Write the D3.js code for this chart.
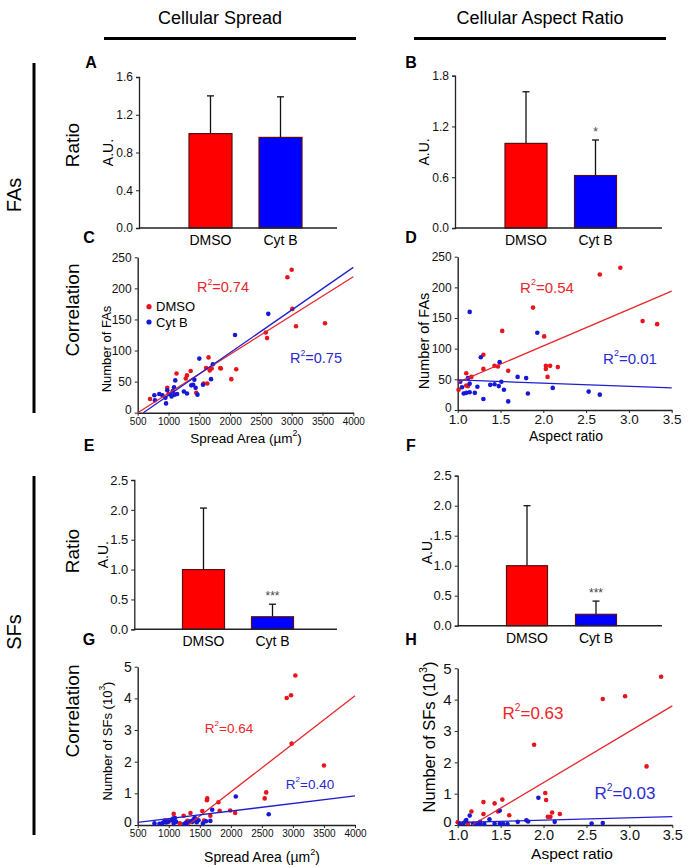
<!DOCTYPE html>
<html><head><meta charset="utf-8">
<script src="https://cdn.jsdelivr.net/npm/d3@7/dist/d3.min.js"></script>
<style>
body{margin:0;background:#fff;}
svg{display:block;font-family:"Liberation Sans",Arial,sans-serif;}
</style></head>
<body>
<svg id="fig" width="690" height="867"></svg>
<script>
// ---------------- DATA ----------------
const groups = ["DMSO", "Cyt B"];

// Bar panels (mean, error top)
const faSpreadMean = [1.0, 0.96];
const faSpreadErr  = [1.40, 1.39];
const faAspectMean = [1.0, 0.62];
const faAspectErr  = [1.61, 1.04];
const sfSpreadMean = [1.0, 0.21];
const sfSpreadErr  = [2.03, 0.42];
const sfAspectMean = [1.0, 0.19];
const sfAspectErr  = [2.0, 0.41];

const ticksA = [0, 0.4, 0.8, 1.2, 1.6];
const ticksB = [0, 0.6, 1.2, 1.8];
const ticksEF = [0, 0.5, 1.0, 1.5, 2.0, 2.5];
const sigB = ["", "*"];
const sigEF = ["", "***"];

// C: spread area vs number of FAs
const cDMSO = [[700,22],[980,40],[1000,30],[1130,63],[1280,55],[1300,60],[1360,67],[1450,32],[1570,47],[1610,72],[1630,47],[1650,89],[1670,68],[1700,71],[1840,72],[1850,71],[2020,54],[2100,70],[2580,129],[2600,120],[2930,218],[3000,230],[3010,167],[3070,139],[3540,144]];
const cCytB = [[770,28],[780,20],[850,30],[900,28],[960,15],[980,36],[1030,30],[1070,35],[1090,41],[1110,52],[1140,30],[1250,34],[1300,31],[1370,44],[1400,45],[1420,53],[1440,40],[1470,29],[1500,87],[1560,45],[1690,54],[1720,78],[2080,125],[2620,159],[1050,26],[1100,29],[950,24]];
// D: aspect ratio vs number of FAs
const dDMSO = [[2.90,232],[2.66,221],[1.88,167],[1.52,129],[2.01,120],[3.16,145],[3.33,140],[1.30,90],[1.30,67],[1.43,72],[1.47,71],[1.59,64],[2.03,72],[2.03,67],[2.08,72],[2.17,70],[2.05,54],[1.10,60],[1.16,54],[1.10,40],[1.12,39],[1.01,33]];
const dCytB = [[1.14,160],[1.93,126],[1.27,86],[1.49,78],[1.70,54],[1.80,52],[1.12,52],[1.03,46],[1.14,43],[1.51,46],[1.38,41],[1.43,42],[1.48,39],[1.23,38],[1.54,33],[2.11,36],[1.05,37],[1.07,27],[1.10,28],[1.14,29],[1.20,28],[1.30,18],[1.59,14],[1.82,27],[2.53,30],[2.66,25]];
// G: spread area vs number of SFs (10^3)
const gDMSO = [[3040,4.72],[2970,4.10],[2900,4.01],[2980,2.57],[3500,1.88],[2570,1.03],[2545,0.84],[1620,0.84],[1615,0.78],[1800,0.72],[1820,0.45],[1990,0.46],[2070,0.38],[1670,0.29],[1540,0.44],[1570,0.14],[1350,0.38],[1080,0.35],[1240,0.29],[1300,0.13],[940,0.14],[1000,0.10],[1180,0.05],[1400,0.15],[1450,0.10]];
const gCytB = [[2080,0.90],[2610,0.34],[1700,0.48],[1670,0.13],[770,0.05],[850,0.04],[900,0.06],[930,0.10],[960,0.08],[990,0.12],[1050,0.15],[1070,0.20],[1080,0.05],[1100,0.22],[1120,0.10],[1250,0.04],[1280,0.08],[1300,0.05],[1350,0.12],[1380,0.10],[1400,0.18],[1420,0.22],[1450,0.09],[1480,0.15],[1550,0.05],[1600,0.12]];
// H: aspect ratio vs number of SFs (10^3)
const hDMSO = [[3.37,4.73],[2.95,4.11],[2.69,4.02],[1.89,2.56],[3.20,1.87],[2.02,1.02],[2.03,0.80],[1.52,0.81],[1.30,0.73],[1.43,0.69],[1.16,0.43],[1.30,0.35],[1.47,0.43],[1.60,0.31],[2.10,0.40],[2.19,0.35],[2.05,0.26],[2.08,0.26],[1.00,0.09],[1.09,0.13],[1.12,0.05]];
const hCytB = [[1.94,0.87],[1.49,0.46],[1.14,0.30],[1.37,0.18],[1.10,0.16],[1.80,0.15],[1.82,0.11],[1.70,0.10],[2.13,0.10],[1.26,0.10],[2.56,0.05],[2.69,0.06],[1.03,0.05],[1.07,0.06],[1.18,0.04],[1.22,0.04],[1.43,0.04],[1.49,0.04],[1.53,0.03],[1.58,0.03],[1.26,0.03],[1.31,0.03]];

// Linear fits [slope, intercept]
const fitC = {dmso:[0.0625,-31.25], cytb:[0.0686,-40.6]};
const fitD = {dmso:[59.5,-14.5], cytb:[-5.2,54.2]};
const fitG = {dmso:[0.00152,-1.996], cytb:[0.00024,-0.04]};
const fitH = {dmso:[1.631,-1.908], cytb:[0.076,0.004]};
const r2C = ["R\u00b2=0.74","R\u00b2=0.75"];
const r2D = ["R\u00b2=0.54","R\u00b2=0.01"];
const r2G = ["R\u00b2=0.64","R\u00b2=0.40"];
const r2H = ["R\u00b2=0.63","R\u00b2=0.03"];

const spreadTicks = [500,1000,1500,2000,2500,3000,3500,4000];
const aspectTicks = [1.0,1.5,2.0,2.5,3.0,3.5];
const faTicks = [0,50,100,150,200,250];
const sfTicks = [0,1,2,3,4,5];

// ---------------- STYLE ----------------
const RED = "#ff0000", BLUE = "#0000ff";
const DOT_RED = "#e8141c", DOT_BLUE = "#1717d6";
const TXT_RED = "#e8262b", TXT_BLUE = "#2a2ad0";
const AX = "#222";

const svg = d3.select("#fig");

function txt(x, y, s, size, opts = {}) {
  const t = svg.append("text").attr("x", x).attr("y", y)
    .attr("font-size", size).attr("fill", opts.fill || "#000")
    .attr("text-anchor", opts.anchor || "middle")
    .attr("dominant-baseline", opts.baseline || "central");
  if (opts.weight) t.attr("font-weight", opts.weight);
  if (opts.rotate) t.attr("transform", `rotate(-90,${x},${y})`);
  t.text(s);
  return t;
}

// headers
txt(220, 18, "Cellular Spread", 18);
txt(540, 18, "Cellular Aspect Ratio", 18);
svg.append("line").attr("x1",104).attr("x2",356).attr("y1",38.5).attr("y2",38.5).attr("stroke","#000").attr("stroke-width",3);
svg.append("line").attr("x1",414).attr("x2",666).attr("y1",38.5).attr("y2",38.5).attr("stroke","#000").attr("stroke-width",3);
// left
svg.append("line").attr("x1",34).attr("x2",34).attr("y1",63).attr("y2",413).attr("stroke","#000").attr("stroke-width",3);
svg.append("line").attr("x1",34).attr("x2",34).attr("y1",476).attr("y2",835).attr("stroke","#000").attr("stroke-width",3);
txt(14, 195, "FAs", 20, {rotate:true});
txt(14, 632, "SFs", 20, {rotate:true});
txt(72, 145, "Ratio", 19, {rotate:true});
txt(72, 310, "Correlation", 19, {rotate:true});
txt(72, 551, "Ratio", 19, {rotate:true});
txt(72, 711, "Correlation", 19, {rotate:true});
// letters
[["A",91,62],["B",411,62],["C",89,237],["D",411,237],["E",89,445],["F",411,445],["G",89,639],["H",411,639]]
  .forEach(([l,x,y]) => txt(x, y, l, 16, {weight:"bold"}));

// ---------------- BAR PANELS ----------------
function barPanel(cfg) {
  const y = d3.scaleLinear().domain([0, cfg.max]).range([cfg.y0, cfg.y1]);
  const x = d3.scalePoint().domain(groups).range(cfg.centers);
  const g = svg.append("g");
  const yAxis = d3.axisLeft(y).tickValues(cfg.ticks).tickSize(3).tickFormat(d3.format(".1f"));
  const ga = g.append("g").attr("transform", `translate(${cfg.ax},0)`).call(yAxis);
  ga.select(".domain").attr("stroke", AX).attr("stroke-width", 1.3);
  ga.selectAll(".tick line").attr("stroke", AX);
  ga.selectAll(".tick text").attr("font-size", cfg.tickSize).attr("fill", "#111")
    .attr("font-family", '"Liberation Sans",Arial,sans-serif');
  // error bars
  groups.forEach((k, i) => {
    const cx = x(k);
    g.append("line").attr("x1", cx).attr("x2", cx).attr("y1", y(cfg.mean[i])).attr("y2", y(cfg.err[i]))
      .attr("stroke", "#111").attr("stroke-width", 1.3);
    g.append("line").attr("x1", cx - 3.5).attr("x2", cx + 3.5).attr("y1", y(cfg.err[i])).attr("y2", y(cfg.err[i]))
      .attr("stroke", "#111").attr("stroke-width", 1.3);
  });
  g.selectAll("rect.bar").data(groups).enter().append("rect")
    .attr("x", d => x(d) - cfg.bw / 2).attr("width", cfg.bw)
    .attr("y", (d, i) => y(cfg.mean[i])).attr("height", (d, i) => cfg.y0 - y(cfg.mean[i]))
    .attr("fill", (d, i) => i === 0 ? RED : BLUE).attr("stroke", "#5a1010").attr("stroke-width", 1.2);
  // baseline
  g.append("line").attr("x1", cfg.ax).attr("x2", cfg.right).attr("y1", cfg.y0).attr("y2", cfg.y0)
    .attr("stroke", AX).attr("stroke-width", 1.5);
  // category labels
  groups.forEach((k) => txt(x(k), cfg.y0 + 12, k, 14));
  // significance
  if (cfg.sig) groups.forEach((k, i) => {
    if (cfg.sig[i]) txt(x(k), y(cfg.err[i]) - 8, cfg.sig[i], 12, {fill:"#444"});
  });
  txt(cfg.ax - 31, (cfg.y0 + cfg.y1) / 2, "A.U.", 14, {rotate:true});
}

barPanel({ax:139, right:337, y0:228, y1:77, max:1.6, ticks:ticksA, centers:[210.5,280.5], bw:43, mean:faSpreadMean, err:faSpreadErr, tickSize:12});
barPanel({ax:455, right:662, y0:228, y1:75.7, max:1.8, ticks:ticksB, centers:[526,595.5], bw:42, mean:faAspectMean, err:faAspectErr, tickSize:12, sig:sigB});
barPanel({ax:134.3, right:337, y0:629.3, y1:480, max:2.5, ticks:ticksEF, centers:[203.5,272.5], bw:42, mean:sfSpreadMean, err:sfSpreadErr, tickSize:13, sig:sigEF});
barPanel({ax:457.7, right:662, y0:625.7, y1:475.7, max:2.5, ticks:ticksEF, centers:[527,596], bw:41, mean:sfAspectMean, err:sfAspectErr, tickSize:13, sig:sigEF});

// ---------------- SCATTER PANELS ----------------
function scatterPanel(cfg) {
  const x = d3.scaleLinear().domain(cfg.xd).range([cfg.x0, cfg.x1]);
  const y = d3.scaleLinear().domain(cfg.yd).range([cfg.y0, cfg.y1]);
  const g = svg.append("g");
  const xa = g.append("g").attr("transform", `translate(0,${cfg.y0})`)
    .call(d3.axisBottom(x).tickValues(cfg.xt).tickSize(3).tickSizeOuter(0).tickFormat(cfg.xf));
  const ya = g.append("g").attr("transform", `translate(${cfg.x0},0)`)
    .call(d3.axisLeft(y).tickValues(cfg.yt).tickSize(3).tickSizeOuter(0).tickFormat(d3.format("d")));
  [xa, ya].forEach(a => {
    a.select(".domain").attr("stroke", AX).attr("stroke-width", 1.4);
    a.selectAll(".tick line").attr("stroke", AX);
    a.selectAll(".tick text").attr("fill", "#111").attr("font-family", '"Liberation Sans",Arial,sans-serif');
  });
  xa.selectAll(".tick text").attr("font-size", cfg.xts).attr("dy", cfg.xdy || "0.6em");
  ya.selectAll(".tick text").attr("font-size", cfg.yts);
  if (cfg.zeroUp) ya.selectAll(".tick text").filter(d => d === 0).attr("dy", "0.1em");
  // fit lines
  function fitLine(f, col) {
    let xs = cfg.xd[0];
    const xz = -f[1] / f[0];
    if (f[0] > 0 && xz > xs) xs = xz;
    const xe = cfg.xd[1];
    g.append("line").attr("x1", x(xs)).attr("y1", y(f[0]*xs + f[1]))
      .attr("x2", x(xe)).attr("y2", y(f[0]*xe + f[1]))
      .attr("stroke", col).attr("stroke-width", 1.3);
  }
  // points
  g.selectAll("c.r").data(cfg.red).enter().append("circle")
    .attr("cx", d => x(d[0])).attr("cy", d => y(d[1])).attr("r", 2.3).attr("fill", DOT_RED);
  g.selectAll("c.b").data(cfg.blue).enter().append("circle")
    .attr("cx", d => x(d[0])).attr("cy", d => y(d[1])).attr("r", 2.3).attr("fill", DOT_BLUE);
  fitLine(cfg.fit.dmso, "#e8262b");
  fitLine(cfg.fit.cytb, "#1f1fcf");
  // labels
  txt(cfg.r2pos[0][0], cfg.r2pos[0][1], "", cfg.r2size, {fill:TXT_RED}).html(cfg.r2[0].replace("\u00b2", '<tspan baseline-shift="super" font-size="0.6em">2</tspan>'));
  txt(cfg.r2pos[1][0], cfg.r2pos[1][1], "", cfg.r2size, {fill:TXT_BLUE}).html(cfg.r2[1].replace("\u00b2", '<tspan baseline-shift="super" font-size="0.6em">2</tspan>'));
  txt(cfg.xl[0], cfg.xl[1], "", cfg.xls).html(cfg.xlab);
  txt(cfg.yl[0], cfg.yl[1], "", cfg.yls, {rotate:true}).html(cfg.ylab);
}

const spreadLab = 'Spread Area (\u00b5m<tspan baseline-shift="super" font-size="0.65em">2</tspan>)';
const sfLab = 'Number of SFs (10<tspan baseline-shift="super" font-size="0.65em">3</tspan>)';

scatterPanel({xd:[500,4000], yd:[0,250], x0:137.7, x1:353.3, y0:412.7, y1:257.3, xt:spreadTicks, yt:faTicks, xf:d3.format("d"), xts:10, yts:12, zeroUp:true,
  red:cDMSO, blue:cCytB, fit:fitC, r2:r2C, r2pos:[[223,287],[316,358]], r2size:14.5,
  xlab:spreadLab, xl:[246,438], xls:13.5, ylab:"Number of FAs", yl:[106,349], yls:13});
scatterPanel({xd:[1,3.5], yd:[0,250], x0:457.7, x1:671.7, y0:410, y1:256.7, xt:aspectTicks, yt:faTicks, xf:d3.format(".1f"), xts:13.5, yts:12, zeroUp:true,
  red:dDMSO, blue:dCytB, fit:fitD, r2:r2D, r2pos:[[547,287],[630,358]], r2size:15,
  xlab:"Aspect ratio", xl:[566,436], xls:14, ylab:"Number of FAs", yl:[424,341], yls:14.5});
scatterPanel({xd:[500,4000], yd:[0,5], x0:137.7, x1:355, y0:825, y1:666.7, xt:spreadTicks, yt:sfTicks, xf:d3.format("d"), xts:10, yts:14, zeroUp:true,
  red:gDMSO, blue:gCytB, fit:fitG, r2:r2G, r2pos:[[229,728],[310,784]], r2size:13.5,
  xlab:spreadLab, xl:[262,857], xls:14, ylab:sfLab, yl:[107,741], yls:13});
scatterPanel({xd:[1,3.5], yd:[0,5], x0:457.7, x1:672.3, y0:825, y1:668.3, xt:aspectTicks, yt:sfTicks, xf:d3.format(".1f"), xts:14.5, yts:15, zeroUp:true,
  red:hDMSO, blue:hCytB, fit:fitH, r2:r2H, r2pos:[[533,713],[625,793]], r2size:17,
  xlab:"Aspect ratio", xl:[572,853], xls:15.5, ylab:sfLab, yl:[429,737], yls:16.5});

// legend (panel C)
const lg = [["DMSO", DOT_RED, 306.7], ["Cyt B", DOT_BLUE, 322]];
lg.forEach(([l, c, yy]) => {
  svg.append("circle").attr("cx", 149).attr("cy", yy).attr("r", 2.6).attr("fill", c);
  txt(156, yy, l, 13, {anchor:"start"});
});
</script>
</body></html>
